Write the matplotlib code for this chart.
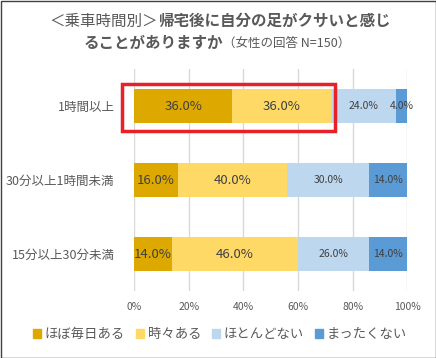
import matplotlib
matplotlib.use("Agg")
import matplotlib.pyplot as plt
from matplotlib.patches import Rectangle, Patch

plt.rcParams['font.family'] = ['Noto Sans CJK JP', 'DejaVu Sans']

categories = ["1時間以上", "30分以上1時間未満", "15分以上30分未満"]
series_names = ["ほぼ毎日ある", "時々ある", "ほとんどない", "まったくない"]
almost_daily = [36.0, 16.0, 14.0]
sometimes = [36.0, 40.0, 46.0]
rarely = [24.0, 30.0, 26.0]
never = [4.0, 14.0, 14.0]
series_values = [almost_daily, sometimes, rarely, never]
colors = ["#DDA800", "#FFD966", "#BDD7EE", "#5B9BD5"]
label_sizes = [9.5, 9.5, 7.5, 7.5]
xticks = [0, 20, 40, 60, 80, 100]
xtick_labels = ["0%", "20%", "40%", "60%", "80%", "100%"]

W, H = 436, 358
fig = plt.figure(figsize=(W / 100, H / 100), dpi=100)
ax = fig.add_axes([134 / W, 1 - 291 / H, (407.3 - 134) / W, (291 - 69) / H])

txt = "#404040"
ypos = list(range(len(categories)))
left = [0.0] * len(categories)
for name, vals, c, fs in zip(series_names, series_values, colors, label_sizes):
    ax.barh(ypos, vals, left=left, height=0.47, color=c, label=name, zorder=3)
    for i, (l, v) in enumerate(zip(left, vals)):
        ax.text(l + v / 2, i, f"{v:.1f}%", ha="center", va="center",
                fontsize=fs, color=txt, zorder=4)
    left = [l + v for l, v in zip(left, vals)]

ax.set_xlim(0, 100)
ax.set_ylim(2.5, -0.5)
ax.set_xticks(xticks)
ax.set_xticklabels(xtick_labels, fontsize=7.5, color="#595959")
ax.set_yticks(ypos)
ax.set_yticklabels(categories, fontsize=9, color="#595959")
ax.tick_params(axis="both", length=0, pad=8)
ax.tick_params(axis="y", pad=14)
ax.grid(axis="x", color="#D9D9D9", linewidth=1, zorder=0)
for s in ax.spines.values():
    s.set_visible(False)

# title
fig.text(158 / W, 1 - 21 / H, "＜乗車時間別＞", ha="right", va="center",
         fontsize=11.2, color="#595959")
fig.text(158 / W, 1 - 21 / H, "帰宅後に自分の足がクサいと感じ", ha="left", va="center",
         fontsize=11.2, color="#595959", fontweight="bold")
fig.text(223 / W, 1 - 43 / H, "ることがありますか", ha="right", va="center",
         fontsize=11.2, color="#595959", fontweight="bold")
fig.text(223 / W, 1 - 43 / H, "（女性の回答 N=150）", ha="left", va="center",
         fontsize=9, color="#595959")

# legend
handles = [Patch(color=c) for c in colors]
fig.legend(handles, series_names, loc="center", bbox_to_anchor=(220 / W, 1 - 334 / H),
           ncol=4, frameon=False, fontsize=9.6, handlelength=0.6, handleheight=0.6,
           handletextpad=0.3, columnspacing=0.8, labelcolor="#595959")

# highlight box
fig.patches.append(Rectangle((122 / W, 1 - 131 / H), 213 / W, 47 / H,
                             transform=fig.transFigure, fill=False,
                             edgecolor="#E8202A", linewidth=2.5, zorder=10))
# border
fig.patches.append(Rectangle((0.5 / W, 0.5 / H), 1 - 1 / W, 1 - 1 / H,
                             transform=fig.transFigure, fill=False,
                             edgecolor="#404040", linewidth=1))

fig.savefig("out.png", dpi=100, facecolor="white")
